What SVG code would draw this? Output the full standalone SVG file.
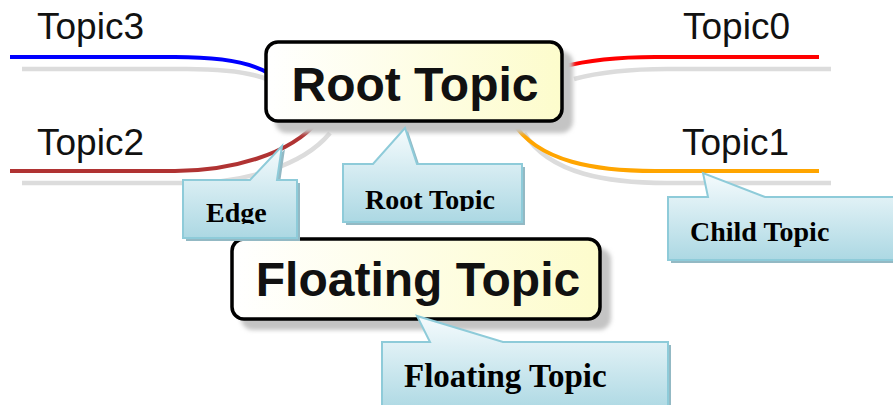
<svg xmlns="http://www.w3.org/2000/svg" width="893" height="405" viewBox="0 0 893 405">
<style>
.lbl{font-family:"Liberation Sans",Arial,sans-serif;font-size:37px;fill:#111}
.big{font-family:"Liberation Sans",Arial,sans-serif;font-size:48px;font-weight:bold;fill:#111;text-anchor:middle}
.note{font-family:"Liberation Serif","Times New Roman",serif;font-weight:bold;font-size:28px;fill:#000}
.conn{fill:none;stroke-width:4;stroke-linecap:butt}
.sh{fill:none;stroke:#dcdcdc;stroke-width:4.5}
.box{stroke:#000;stroke-width:3.5;fill:url(#yel)}
.boxsh{fill:#c4c4c4;filter:url(#blur)}
.call{fill:url(#blu);stroke:#8ecbd9;stroke-width:2}
.callsh{fill:#93b9c4}
</style>
<defs>
<linearGradient id="yel" x1="0" y1="0" x2="1" y2="0">
<stop offset="0" stop-color="#ffffff"/>
<stop offset="1" stop-color="#fdfccc"/>
</linearGradient>
<linearGradient id="blu" x1="0" y1="0" x2="0" y2="1">
<stop offset="0" stop-color="#f5fbfd"/>
<stop offset="1" stop-color="#acd8e3"/>
</linearGradient>
<filter id="blur" x="-10%" y="-10%" width="120%" height="130%">
<feGaussianBlur stdDeviation="2"/>
</filter>
<clipPath id="clipEdge"><rect x="183" y="180" width="120" height="44"/></clipPath>
<clipPath id="clipRootNote"><rect x="343" y="164" width="185" height="47"/></clipPath>
</defs>
<rect width="893" height="405" fill="#ffffff"/>

<g id="connectors">
<path class="sh" d="M22,69 H187 C227,69 262,74 279,85"/>
<path class="sh" d="M22,183 H187 C242,183 302,167 330,133"/>
<path class="sh" d="M574,79 C600,72 630,69 667,69 H831"/>
<path class="sh" d="M524,133 C550,175 610,183 667,183 H831"/>
<path class="conn" stroke="#0000ff" d="M10,57 H175 C215,57 250,62 268,73"/>
<path class="conn" stroke="#b03333" d="M10,171 H175 C230,171 290,155 318,121"/>
<path class="conn" stroke="#ff0000" d="M562,67 C588,60 618,57 655,57 H819"/>
<path class="conn" stroke="#ffa500" d="M512,121 C538,163 598,171 655,171 H819"/>
</g>

<g id="topic3"><text class="lbl" x="37" y="39">Topic3</text></g>
<g id="topic2"><text class="lbl" x="37" y="155">Topic2</text></g>
<g id="topic0"><text class="lbl" x="683" y="39">Topic0</text></g>
<g id="topic1"><text class="lbl" x="682" y="155">Topic1</text></g>

<g id="root">
<rect class="boxsh" x="275" y="51" width="298" height="82" rx="12"/>
<rect class="box" x="266" y="42" width="296" height="79" rx="12"/>
<text class="big" x="415" y="101">Root Topic</text>
</g>

<g id="floating">
<rect class="boxsh" x="241" y="248" width="370" height="82" rx="12"/>
<rect class="box" x="232" y="239" width="368" height="80" rx="12"/>
<text class="big" x="418" y="296">Floating Topic</text>
</g>

<g id="note-edge">
<path class="callsh" d="M186,183 H253 L285,149 L280,183 H300 V241 H186 Z"/>
<path class="call" d="M183,180 H250 L282,146 L277,180 H297 V238 H183 Z"/>
<text class="note" x="206" y="222" clip-path="url(#clipEdge)">Edge</text>
</g>

<g id="note-root">
<path class="callsh" d="M346,167 H376 L408,131 L420,167 H525 V225 H346 Z"/>
<path class="call" d="M343,164 H373 L405,128 L417,164 H522 V222 H343 Z"/>
<text class="note" x="365" y="209" clip-path="url(#clipRootNote)">Root Topic</text>
</g>

<g id="note-child">
<path class="callsh" d="M671,200 H711 L706,176 L768,200 H903 V263 H671 Z"/>
<path class="call" d="M668,197 H708 L703,173 L765,197 H900 V260 H668 Z"/>
<text class="note" x="690" y="241">Child Topic</text>
</g>

<g id="note-floating">
<path class="callsh" d="M385,345 H433 L420,319 L506,345 H671 V413 H385 Z"/>
<path class="call" d="M382,342 H430 L417,316 L503,342 H668 V412 H382 Z"/>
<text class="note" x="404" y="387" style="font-size:33px">Floating Topic</text>
</g>
</svg>
